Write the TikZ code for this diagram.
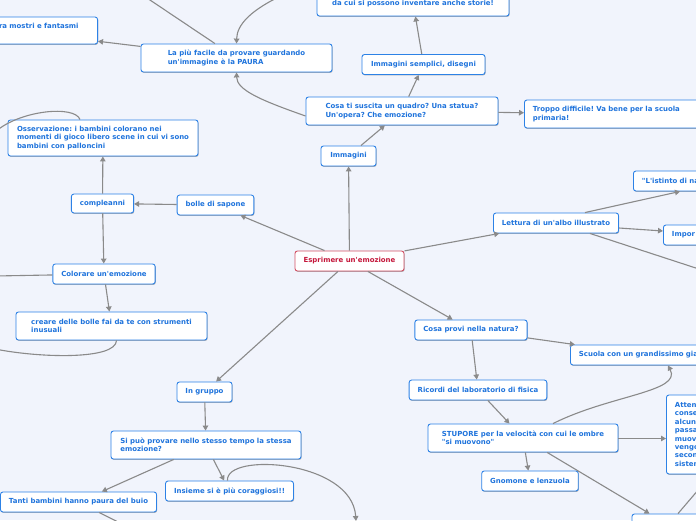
\documentclass[tikz,border=0pt]{standalone}
\usepackage{fontspec}
\newfontfamily\mapfont{DejaVu Sans}
\usetikzlibrary{arrows.meta,shadows}
\definecolor{mapbg}{RGB}{241,244,252}
\definecolor{mapblue}{RGB}{30,115,220}
\definecolor{mapedge}{RGB}{45,130,230}
\definecolor{mapred}{RGB}{196,22,58}
\definecolor{mapredge}{RGB}{210,80,100}
\definecolor{mapgray}{RGB}{138,138,138}
\frenchspacing

\tikzset{
  idea/.style={draw=mapedge, fill=white, text=mapblue, line width=0.9pt,
    rounded corners=2.5pt, font=\mapfont\bfseries\fontsize{6.95}{8.4}\selectfont,
    inner xsep=8.5pt, inner ysep=2pt, align=left,
    drop shadow={shadow xshift=0.6pt, shadow yshift=-0.9pt, opacity=0.3, fill=black}},
  core/.style={idea, draw=mapredge, text=mapred},
  boxsize/.style 2 args={minimum width=#1pt, minimum height=#2pt},
  link/.style={draw=mapgray, line width=1.1pt, -{Triangle[length=5pt,width=5.5pt]}},
  tail/.style={draw=mapgray, line width=1.1pt},
}

\begin{document}
\begin{tikzpicture}[x=1pt, y=-1pt]
  \useasboundingbox (0,0) rectangle (696,520);
  \fill[mapbg] (0,0) rectangle (696,520);

  \node[core, boxsize={109}{20}] (emozione) at (349.5,261) {Esprimere un'emozione};
  \node[idea, boxsize={55}{20}] (immagini) at (348.5,156) {Immagini};
  \node[idea, boxsize={192}{28}] (suscita) at (402,111) {Cosa ti suscita un quadro? Una statua?\\Un'opera? Che emozione?};
  \node[idea, anchor=west, text width=159pt, minimum height=28pt] (difficile) at (524,114) {Troppo difficile! Va bene per la scuola\\primaria!};
  \node[idea, boxsize={123}{20}] (semplici) at (423.5,64.5) {Immagini semplici, disegni};
  \node[idea, boxsize={192}{28}] (storie) at (413,2) {\mbox{}\\da cui si possono inventare anche storie!};
  \node[idea, boxsize={191}{28}] (paura) at (236.5,58) {La più facile da provare guardando\\un'immagine è la PAURA};
  \node[idea, anchor=east, text width=161pt, minimum height=27pt] (mostri) at (98,30.5) {\hspace*{71pt}ra mostri e fantasmi\\\mbox{}};
  \node[idea, boxsize={190}{36}] (osservazione) at (103,138) {Osservazione: i bambini colorano nei\\momenti di gioco libero scene in cui vi sono\\bambini con palloncini};
  \node[idea, boxsize={61}{19}] (compleanni) at (102.5,203.5) {compleanni};
  \node[idea, boxsize={75}{20}] (bolle) at (215.5,205) {bolle di sapone};
  \node[idea, boxsize={102}{20}] (colorare) at (104,274) {Colorare un'emozione};
  \node[idea, boxsize={191}{28}] (creare) at (111.5,326) {creare delle bolle fai da te con strumenti\\inusuali};
  \node[idea, boxsize={55}{20}] (gruppo) at (204.5,392) {In gruppo};
  \node[idea, boxsize={190}{28}] (stessa) at (206,445) {Si può provare nello stesso tempo la stessa\\emozione?};
  \node[idea, boxsize={127}{20}] (coraggiosi) at (229.5,491) {Insieme si è più coraggiosi!!};
  \node[idea, boxsize={155}{20}] (buio) at (78.5,502) {Tanti bambini hanno paura del buio};
  \node[idea, boxsize={124}{20}] (albo) at (556,223) {Lettura di un'albo illustrato};
  \node[idea, anchor=west, text width=110pt, minimum height=20pt] (istinto) at (633,181) {"L'istinto di na};
  \node[idea, anchor=west, text width=60pt, minimum height=20pt] (impor) at (663,235) {Impor};
  \node[idea, anchor=west, text width=141pt, minimum height=20pt] (scuola) at (570,355) {Scuola con un grandissimo gia};
  \node[idea, boxsize={112}{20}] (natura) at (471,330) {Cosa provi nella natura?};
  \node[idea, boxsize={136}{20}] (fisica) at (478,390) {Ricordi del laboratorio di fisica};
  \node[idea, boxsize={190}{28}] (stupore) at (523,438) {STUPORE per la velocità con cui le ombre\\"si muovono"};
  \node[idea, boxsize={96}{20}] (gnomone) at (530,481) {Gnomone e lenzuola};
  \node[idea, anchor=west, text width=60pt, minimum height=79pt] (attenzione) at (666,434.5) {Atten\\conse\\alcun\\passa\\muov\\vengo\\secon\\sistem};
  \node[idea, boxsize={70}{20}] (basso) at (667,524) {};

  \coordinate (sopraA) at (144,-4);
  \coordinate (sopraB) at (285,-6);
  \coordinate (sinA) at (-5,132);
  \coordinate (sinB) at (-5,276);
  \coordinate (sinC) at (-5,349);
  \coordinate (sottoA) at (120,523);
  \coordinate (sottoB) at (356,521);
  \coordinate (desA) at (705,271);
  \coordinate (desB) at (705,482);

  \draw[link] (emozione) -- (immagini);
  \draw[link] (emozione) -- (bolle);
  \draw[link] (emozione) -- (albo);
  \draw[link] (emozione) -- (gruppo);
  \draw[link] (emozione) -- (natura);
  \draw[link] (immagini) -- (suscita);
  \draw[link] (suscita) -- (semplici);
  \draw[link] (semplici) -- (storie);
  \draw[link] (suscita) -- (difficile);
  \draw[link] ([yshift=-5pt]suscita.west) .. controls (260,100) and (237,90) .. (paura.south);
  \draw[link] (sopraB) .. controls (250,10) and (237,25) .. (paura.north);
  \draw[tail] (paura) -- (sopraA);
  \draw[link] (paura) -- (mostri);
  \draw[link] (bolle) -- (compleanni);
  \draw[link] (compleanni) -- (osservazione);
  \draw[link] (compleanni) -- (colorare);
  \draw[link] (colorare) -- (creare);
  \draw[tail] (colorare) -- (sinB);
  \draw[tail] ([xshift=5pt]creare.south) .. controls (116,360) and (40,358) .. (sinC);
  \draw[tail] ([xshift=-23pt]osservazione.north) .. controls (75,105) and (20,110) .. (sinA);
  \draw[link] (gruppo) -- (stessa);
  \draw[link] (stessa) -- (buio);
  \draw[link] (stessa) -- (coraggiosi);
  \draw[link] ([xshift=-2pt]coraggiosi.north) .. controls (225,452) and (352,460) .. (sottoB);
  \draw[tail] (buio) -- (sottoA);
  \draw[link] ([xshift=29pt]albo.north) -- ([xshift=47pt]istinto.south west);
  \draw[link] ([yshift=-5pt]albo.east) -- ([yshift=4pt]impor.west);
  \draw[tail] ([xshift=34pt]albo.south) -- (desA);
  \draw[link] (natura) -- (scuola);
  \draw[link] (natura) -- (fisica);
  \draw[link] (fisica) -- (stupore);
  \draw[link] (stupore) -- (gnomone);
  \draw[link] ([yshift=-0.5pt]stupore.east) -- ([yshift=-0.5pt]stupore.east -| attenzione.west);
  \draw[link] (stupore) -- (basso);
  \draw[tail] ([xshift=11pt]basso.north) -- (desB);
  \draw[link] ([xshift=30pt]stupore.north) .. controls (610,395) and (682,392) .. ([xshift=98pt]scuola.south west);
\end{tikzpicture}
\end{document}
